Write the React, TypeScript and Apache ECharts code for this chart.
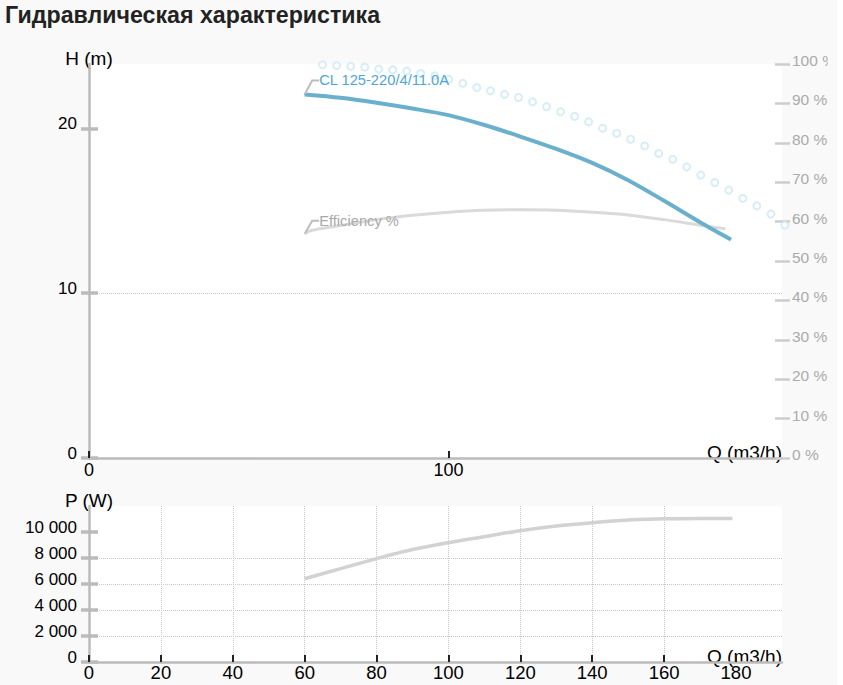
import React, { useEffect, useRef } from 'react';
import * as echarts from 'echarts';

const TITLE = 'Гидравлическая характеристика';
const PUMP_NAME = 'CL 125-220/4/11.0A';
const EFF_NAME = 'Efficiency %';
const H_NAME = 'H (m)';
const P_NAME = 'P (W)';
const Q_NAME = 'Q (m3/h)';

// Head curve H(Q)
const HEAD_Q = [60, 70, 80, 90, 100, 110, 120, 130, 140, 150, 160, 170, 178.6];
const HEAD_H = [22.05, 21.85, 21.55, 21.2, 20.8, 20.2, 19.5, 18.75, 17.9, 16.85, 15.6, 14.3, 13.25];

// Efficiency curve (%)
const EFF_Q = [60, 62, 70, 80, 90, 100, 110, 120, 130, 140, 150, 160, 170, 177];
const EFF_V = [56.9, 57.8, 59.0, 60.5, 61.6, 62.4, 62.9, 63.0, 62.9, 62.4, 61.7, 60.5, 59.1, 58.2];

// Dotted (circle) curve (%)
const DOT_Q = [65.0, 68.9, 72.8, 76.7, 80.6, 84.5, 88.4, 92.3, 96.2, 100.1, 104.0, 107.9, 111.7, 115.6, 119.5, 123.4, 127.3,
  131.2, 135.1, 139.0, 142.9, 146.8, 150.7, 154.6, 158.5, 162.4, 166.3, 170.2, 174.1, 178.0, 181.9, 185.8, 189.7, 193.6];
const DOT_V = [99.8, 99.6, 99.4, 99.2, 98.7, 98.5, 98.2, 97.6, 97.0, 96.1, 95.1, 94.0, 93.2, 92.3, 91.5, 90.4, 89.2,
  87.9, 86.7, 85.3, 83.7, 82.4, 80.9, 79.2, 77.3, 75.8, 73.9, 71.8, 69.9, 68.0, 65.9, 64.0, 61.9, 59.1];

// Power curve P(Q)
const POW_Q = [60, 70, 80, 90, 100, 110, 120, 130, 140, 150, 160, 170, 179];
const POW_P = [6400, 7180, 7950, 8650, 9180, 9640, 10100, 10460, 10720, 10920, 11020, 11030, 11030];

// Ticks
const TOP_X_TICKS = [0, 100];
const BOTTOM_X_TICKS = [0, 20, 40, 60, 80, 100, 120, 140, 160, 180];
const H_TICKS = [0, 10, 20];
const P_TICKS = [0, 2000, 4000, 6000, 8000, 10000];
const Q_MAX = 192.8;
const H_MAX = 23.9;
const P_MAX = 12000;

const FONT = '"Liberation Sans", Arial, Helvetica, sans-serif';
const AXIS_GRAY = '#bbbbbb';
const GRID_GRAY = '#c8c8c8';

export default function App() {
  const ref = useRef<HTMLDivElement>(null);

  useEffect(() => {
    const chart = echarts.init(ref.current!, null, { renderer: 'svg' });

    const zip = (xs: number[], ys: number[]) => xs.map((x, i) => [x, ys[i]]);
    const withFirstLabel = (xs: number[], ys: number[], text: string, color: string) =>
      xs.map((x, i) =>
        i === 0
          ? {
              value: [x, ys[i]],
              label: {
                show: true,
                position: 'right',
                distance: 0,
                formatter: text,
                color,
                fontSize: 14.7,
                fontFamily: FONT,
              },
            }
          : [x, ys[i]]
      );

    const splitDotted = {
      show: true,
      showMinLine: false,
      showMaxLine: false,
      lineStyle: { color: GRID_GRAY, type: 'dotted', width: 1 },
    };

    const leftAxisBase = (gridIndex: number, max: number, interval: number) => ({
      type: 'value',
      gridIndex,
      position: 'left',
      min: 0,
      max,
      interval,
    });

    const qName = {
      name: Q_NAME,
      nameLocation: 'end',
      nameGap: 0,
      nameMoveOverlap: false,
      nameTextStyle: { align: 'right', verticalAlign: 'bottom', lineHeight: 12, fontSize: 19, color: '#000', fontFamily: FONT },
    };

    const thousands = (v: number) => String(v).replace(/\B(?=(\d{3})+(?!\d))/g, ' ');

    const option: any = {
      animation: false,
      backgroundColor: 'transparent',
      textStyle: { fontFamily: FONT },
      title: {
        text: TITLE,
        left: 5,
        top: 3,
        padding: 0,
        textStyle: { fontSize: 23.2, fontWeight: 'bold', color: '#222', fontFamily: FONT },
      },
      grid: [
        { left: 89, top: 64, width: 693, height: 394, show: true, backgroundColor: '#ffffff', borderWidth: 0, outerBoundsMode: 'none', containLabel: false },
        { left: 89, top: 506, width: 693, height: 156, show: true, backgroundColor: '#ffffff', borderWidth: 0, outerBoundsMode: 'none', containLabel: false },
      ],
      xAxis: [
        {
          type: 'value',
          gridIndex: 0,
          min: 0,
          max: Q_MAX,
          interval: 100,
          ...qName,
          axisLine: { show: true, onZero: false, lineStyle: { color: AXIS_GRAY, width: 2.5 } },
          axisTick: { show: true, inside: true, length: 7, customValues: TOP_X_TICKS, lineStyle: { color: '#222', width: 2 } },
          axisLabel: { show: true, customValues: TOP_X_TICKS, fontSize: 18, color: '#000', margin: 3, fontFamily: FONT },
          splitLine: splitDotted,
        },
        {
          type: 'value',
          gridIndex: 1,
          min: 0,
          max: Q_MAX,
          interval: 20,
          ...qName,
          axisLine: { show: true, onZero: false, lineStyle: { color: AXIS_GRAY, width: 2.5 } },
          axisTick: { show: true, inside: true, length: 7, customValues: BOTTOM_X_TICKS, lineStyle: { color: '#222', width: 2 } },
          axisLabel: { show: true, customValues: BOTTOM_X_TICKS, fontSize: 18.5, color: '#000', margin: 1, fontFamily: FONT },
          splitLine: splitDotted,
        },
      ],
      yAxis: [
        {
          ...leftAxisBase(0, H_MAX, 10),
          name: H_NAME,
          nameLocation: 'end',
          nameGap: 0,
          nameTextStyle: { verticalAlign: 'bottom', lineHeight: 12, fontSize: 19, color: '#000', fontFamily: FONT },
          axisLine: { show: true, lineStyle: { color: AXIS_GRAY, width: 2.5 } },
          axisTick: { show: true, length: 8, customValues: H_TICKS, lineStyle: { color: AXIS_GRAY, width: 3.5 } },
          axisLabel: { customValues: H_TICKS, fontSize: 17, color: '#000', margin: 12, verticalAlign: 'bottom', lineHeight: 9, fontFamily: FONT },
          splitLine: splitDotted,
        },
        {
          ...leftAxisBase(0, H_MAX, 10),
          axisLine: { show: false },
          axisTick: { show: true, inside: true, length: 9, customValues: H_TICKS, lineStyle: { color: AXIS_GRAY, width: 3.5 } },
          axisLabel: { show: false },
          splitLine: { show: false },
        },
        {
          type: 'value',
          gridIndex: 0,
          position: 'right',
          offset: -7,
          min: 0,
          max: 100,
          interval: 10,
          axisLine: { show: false },
          axisTick: { show: true, length: 15, lineStyle: { color: '#cccccc', width: 2.5 } },
          axisLabel: { formatter: '{value} %', color: '#ababab', fontSize: 15.5, margin: 17, verticalAlign: 'bottom', lineHeight: 7, fontFamily: FONT },
          splitLine: { show: false },
        },
        {
          ...leftAxisBase(1, P_MAX, 2000),
          name: P_NAME,
          nameLocation: 'end',
          nameGap: 0,
          nameTextStyle: { verticalAlign: 'bottom', lineHeight: 12, fontSize: 19, color: '#000', fontFamily: FONT },
          axisLine: { show: true, lineStyle: { color: AXIS_GRAY, width: 2.5 } },
          axisTick: { show: true, length: 8, customValues: P_TICKS, lineStyle: { color: AXIS_GRAY, width: 3.5 } },
          axisLabel: { customValues: P_TICKS, formatter: thousands, fontSize: 17, color: '#000', margin: 12, verticalAlign: 'bottom', lineHeight: 9, fontFamily: FONT },
          splitLine: splitDotted,
        },
        {
          ...leftAxisBase(1, P_MAX, 2000),
          axisLine: { show: false },
          axisTick: { show: true, inside: true, length: 9, customValues: P_TICKS, lineStyle: { color: AXIS_GRAY, width: 3.5 } },
          axisLabel: { show: false },
          splitLine: { show: false },
        },
      ],
      series: [
        {
          type: 'line',
          name: EFF_NAME,
          xAxisIndex: 0,
          yAxisIndex: 2,
          data: withFirstLabel(EFF_Q, EFF_V, EFF_NAME, '#a9a9a9'),
          smooth: 0.3,
          symbol: 'circle',
          symbolSize: 1,
          showAllSymbol: true,
          itemStyle: { color: '#dadada' },
          lineStyle: { color: '#dadada', width: 3 },
          labelLayout: { dx: 14, dy: -13 },
          labelLine: { show: true, length2: 7, lineStyle: { color: '#bdbdbd', width: 2 } },
          silent: true,
          emphasis: { disabled: true },
          z: 2,
        },
        {
          type: 'scatter',
          xAxisIndex: 0,
          yAxisIndex: 2,
          data: zip(DOT_Q, DOT_V),
          symbol: 'emptyCircle',
          symbolSize: 7,
          clip: false,
          itemStyle: { color: '#cfe8f5', borderWidth: 2 },
          silent: true,
          emphasis: { disabled: true },
          z: 3,
        },
        {
          type: 'line',
          name: PUMP_NAME,
          xAxisIndex: 0,
          yAxisIndex: 0,
          data: withFirstLabel(HEAD_Q, HEAD_H, PUMP_NAME, '#4ea6d8'),
          smooth: 0.3,
          symbol: 'circle',
          symbolSize: 1,
          showAllSymbol: true,
          itemStyle: { color: '#6ab0cc' },
          lineStyle: { color: '#6ab0cc', width: 4 },
          labelLayout: { dx: 14, dy: -14 },
          labelLine: { show: true, length2: 7, lineStyle: { color: '#bdbdbd', width: 2 } },
          silent: true,
          emphasis: { disabled: true },
          z: 4,
        },
        {
          type: 'line',
          xAxisIndex: 1,
          yAxisIndex: 3,
          data: zip(POW_Q, POW_P),
          smooth: 0.3,
          showSymbol: false,
          lineStyle: { color: '#d2d2d2', width: 3.5 },
          silent: true,
          emphasis: { disabled: true },
        },
      ],
    };

    chart.setOption(option);
    return () => chart.dispose();
  }, []);

  return (
    <div style={{ position: 'absolute', left: 0, top: 0, width: 837, height: 685, background: '#f9f9f9' }}>
      <div ref={ref} style={{ width: 828, height: 685, overflow: 'hidden' }} />
    </div>
  );
}
